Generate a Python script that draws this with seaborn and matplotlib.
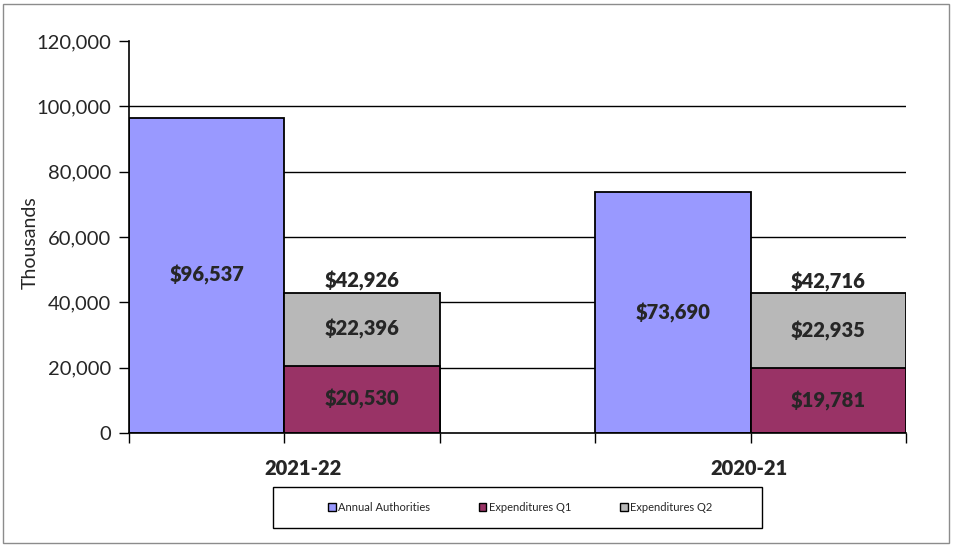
import pandas as pd
import matplotlib.pyplot as plt
import matplotlib.transforms as mtransforms
from matplotlib.patches import Rectangle, Patch
import seaborn as sns

years = ["2021-22", "2020-21"]
authorities = [96537, 73690]
exp_q1 = [20530, 19781]
exp_q2 = [22396, 22935]
totals = [a + b for a, b in zip(exp_q1, exp_q2)]

y_ticks = [0, 20000, 40000, 60000, 80000, 100000, 120000]

col_auth = "#9999ff"
col_q1 = "#993366"
col_q2 = "#b8b8b8"

sns.set_style("white")
plt.rcParams["font.family"] = ["Lato", "DejaVu Sans"]

# chaque groupe : autorisations à gauche, dépenses empilées à droite
auth_x = [0.5, 3.5]
exp_x = [1.5, 4.5]

df_auth = pd.DataFrame({"x": auth_x, "val": authorities})
df_exp = pd.DataFrame({"x": exp_x, "total": totals, "q1": exp_q1, "q2": exp_q2})

fig = plt.figure(figsize=(9.55, 5.49), dpi=100)
ax = fig.add_axes([129 / 955, 116 / 549, 777 / 955, 392 / 549])

bar_kw = dict(native_scale=True, width=1 / 3, edgecolor="black",
              linewidth=1.3, ax=ax, zorder=3)
sns.barplot(data=df_auth, x="x", y="val", color=col_auth, saturation=1, **bar_kw)
sns.barplot(data=df_exp, x="x", y="total", color=col_q2, saturation=1, **bar_kw)
sns.barplot(data=df_exp, x="x", y="q1", color=col_q1, saturation=1, **bar_kw)

ax.set_xlim(0, 5)
ax.set_ylim(0, 120000)
ax.set_yticks(y_ticks)
ax.set_yticklabels([f"{v:,}" for v in y_ticks], fontsize=14.5)
ax.set_xticks([0, 1, 2, 3, 4, 5])
ax.set_xticklabels([])
ax.set_xlabel("")
ax.set_ylabel("")
ax.tick_params(axis="both", direction="out", length=7, width=1, color="black",
               left=True, bottom=True, pad=6)

ax.grid(axis="y", color="black", linewidth=1, zorder=0)
ax.grid(axis="x", visible=False)
ax.get_ygridlines()[-1].set_visible(False)
ax.get_ygridlines()[0].set_visible(False)

for s in ["top", "right"]:
    ax.spines[s].set_visible(False)
for s in ["left", "bottom"]:
    ax.spines[s].set_color("black")
    ax.spines[s].set_linewidth(1.2)
    ax.spines[s].set_zorder(4)

lab_kw = dict(ha="center", va="center", fontsize=14.5, fontweight="heavy", zorder=5)
for x, v in zip(auth_x, authorities):
    ax.text(x, v / 2, f"${v:,}", **lab_kw)
for x, a, b, t in zip(exp_x, exp_q1, exp_q2, totals):
    ax.text(x, a / 2, f"${a:,}", **lab_kw)
    ax.text(x, a + b / 2, f"${b:,}", **lab_kw)
    ax.annotate(f"${t:,}", (x, t), xytext=(0, 1), textcoords="offset points",
                ha="center", va="bottom", fontsize=14.5, fontweight="heavy")

trans = mtransforms.blended_transform_factory(ax.transData, ax.transAxes)
for x, yr in zip([1.12, 3.99], years):
    ax.text(x, -0.09, yr, transform=trans, ha="center", va="center",
            fontsize=14.5, fontweight="heavy")

fig.text(30 / 955, 1 - 243 / 549, "Thousands", rotation=90, ha="center",
         va="center", fontsize=14)

# cadre extérieur + cadre de la légende
fig.patches.append(Rectangle((3 / 955, 6 / 549), 946 / 955, 539 / 549,
                             transform=fig.transFigure, fill=False,
                             edgecolor="#8c8c8c", linewidth=1))
fig.patches.append(Rectangle((273 / 955, 21 / 549), 489 / 955, 41 / 549,
                             transform=fig.transFigure, fill=False,
                             edgecolor="black", linewidth=1))

handles = [Patch(facecolor=col_auth, edgecolor="black", label="Annual Authorities"),
           Patch(facecolor=col_q1, edgecolor="black", label="Expenditures Q1"),
           Patch(facecolor=col_q2, edgecolor="black", label="Expenditures Q2")]
fig.legend(handles=handles, loc="center", bbox_to_anchor=(520 / 955, 41.5 / 549),
           ncol=3, frameon=False, fontsize=8, handlelength=0.7, handleheight=0.7,
           handletextpad=0.2, columnspacing=4.4)

fig.savefig("out.png", dpi=100)
